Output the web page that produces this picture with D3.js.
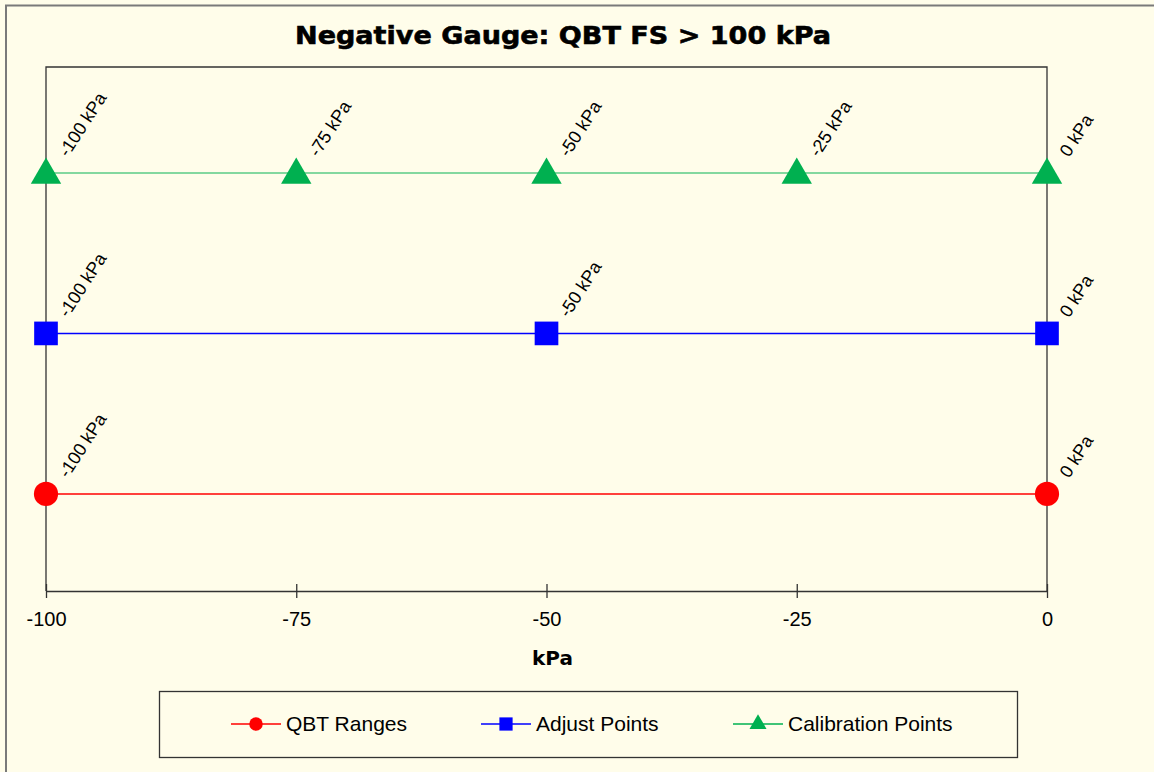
<!DOCTYPE html>
<html>
<head>
<meta charset="utf-8">
<script src="https://cdn.jsdelivr.net/npm/d3@7"></script>
<style>
  body { margin: 0; background: #fffdea; }
  svg { display: block; }
</style>
</head>
<body>
<div id="chart"></div>
<script>
// series data
const seriesNames = ["QBT Ranges", "Adjust Points", "Calibration Points"];
const seriesColors = ["#ff0000", "#0000ff", "#00b050"];
const seriesRows = [1, 2, 3];
const qbtRanges = [-100, 0];
const adjustPoints = [-100, -50, 0];
const calibrationPoints = [-100, -75, -50, -25, 0];
const xTicks = [-100, -75, -50, -25, 0];

const W = 1154, H = 772;
const margin = {top: 67, right: 107, bottom: 181, left: 46};
const width = W - margin.left - margin.right;
const height = H - margin.top - margin.bottom;

const svg = d3.select("#chart").append("svg")
    .attr("width", W)
    .attr("height", H);

// background + outer frame (only left/top visible)
svg.append("rect").attr("width", W).attr("height", H).attr("fill", "#fffdea");
svg.append("path")
    .attr("d", "M6,772 V5.5 H1154")
    .attr("fill", "none")
    .attr("stroke", "#7a7a7a")
    .attr("stroke-width", 2);

// title
svg.append("text")
    .attr("x", 563)
    .attr("y", 44)
    .attr("text-anchor", "middle")
    .attr("font-family", "DejaVu Sans, sans-serif")
    .attr("font-weight", "bold")
    .attr("font-size", "25px")
    .attr("textLength", 536)
    .attr("lengthAdjust", "spacingAndGlyphs")
    .attr("fill", "#000")
    .attr("stroke", "#000")
    .attr("stroke-width", 0.6)
    .text("Negative Gauge: QBT FS > 100 kPa");

const g = svg.append("g")
    .attr("transform", "translate(" + margin.left + "," + margin.top + ")");

const x = d3.scaleLinear().domain([-100, 0]).range([0, width]);
const y = d3.scaleLinear().domain([0.395, 3.66]).range([height, 0]);

// plot frame: left, top, right
g.append("path")
    .attr("d", `M0,${height} V0 H${width} V${height}`)
    .attr("fill", "none")
    .attr("stroke", "#333")
    .attr("stroke-width", 1.3);

// x axis
const xAxis = g.append("g")
    .attr("transform", "translate(0," + height + ")")
    .call(d3.axisBottom(x).tickValues(xTicks).tickFormat(d => String(d))
        .tickSizeInner(7).tickSizeOuter(0).tickPadding(14));
xAxis.select(".domain").attr("stroke", "#333").attr("stroke-width", 1.3);
xAxis.selectAll(".tick line").attr("stroke", "#333").attr("y1", -7).attr("stroke-width", 1.3);
xAxis.selectAll(".tick text")
    .attr("font-family", "Liberation Sans, Arial, sans-serif")
    .attr("font-size", "20px")
    .attr("fill", "#000");

// x axis title
g.append("text")
    .attr("x", width / 2 + 6)
    .attr("y", height + 74)
    .attr("text-anchor", "middle")
    .attr("font-family", "DejaVu Sans, sans-serif")
    .attr("font-weight", "bold")
    .attr("font-size", "20px")
    .text("kPa");

const allSeries = [qbtRanges, adjustPoints, calibrationPoints];
const symbols = [d3.symbolCircle, d3.symbolSquare, d3.symbolTriangle];
const symbolSizes = [460, 560, 400];

allSeries.forEach((vals, i) => {
    const row = seriesRows[i];
    const line = d3.line().x(d => x(d)).y(() => y(row));
    g.append("path")
        .datum(vals)
        .attr("d", line)
        .attr("fill", "none")
        .attr("stroke", seriesColors[i])
        .attr("stroke-opacity", i === 2 ? 0.65 : 1)
        .attr("stroke-width", 1.5);

    g.selectAll(".m" + i)
        .data(vals)
        .enter()
        .append("path")
        .attr("class", "m" + i)
        .attr("d", d3.symbol().type(symbols[i]).size(symbolSizes[i]))
        .attr("transform", d => "translate(" + x(d) + "," + (y(row) + (i === 2 ? 2 : 0)) + ")")
        .attr("fill", seriesColors[i]);

    g.selectAll(".l" + i)
        .data(vals)
        .enter()
        .append("text")
        .attr("class", "l" + i)
        .attr("transform", d => "translate(" + (x(d) + 22) + "," + (y(row) - 15) + ") rotate(-57)")
        .attr("font-family", "Liberation Sans, Arial, sans-serif")
        .attr("font-size", "18px")
        .attr("fill", "#000")
        .text(d => d + " kPa");
});

// legend
const legend = svg.append("g");
legend.append("rect")
    .attr("x", 159.5).attr("y", 691.5)
    .attr("width", 858).attr("height", 66)
    .attr("fill", "none")
    .attr("stroke", "#333")
    .attr("stroke-width", 1.3);

const legendX = [231, 481, 733];
seriesNames.forEach((name, i) => {
    const lx = legendX[i], ly = 724;
    legend.append("line")
        .attr("x1", lx).attr("x2", lx + 50)
        .attr("y1", ly).attr("y2", ly)
        .attr("stroke", seriesColors[i])
        .attr("stroke-width", 1.3);
    legend.append("path")
        .attr("d", d3.symbol().type(symbols[i]).size(symbolSizes[i] / 3.2))
        .attr("transform", "translate(" + (lx + 25) + "," + ly + ")")
        .attr("fill", seriesColors[i]);
    legend.append("text")
        .attr("x", lx + 55)
        .attr("y", ly)
        .attr("dy", "0.35em")
        .attr("font-family", "Liberation Sans, Arial, sans-serif")
        .attr("font-size", "21px")
        .attr("fill", "#000")
        .text(name);
});
</script>
</body>
</html>
